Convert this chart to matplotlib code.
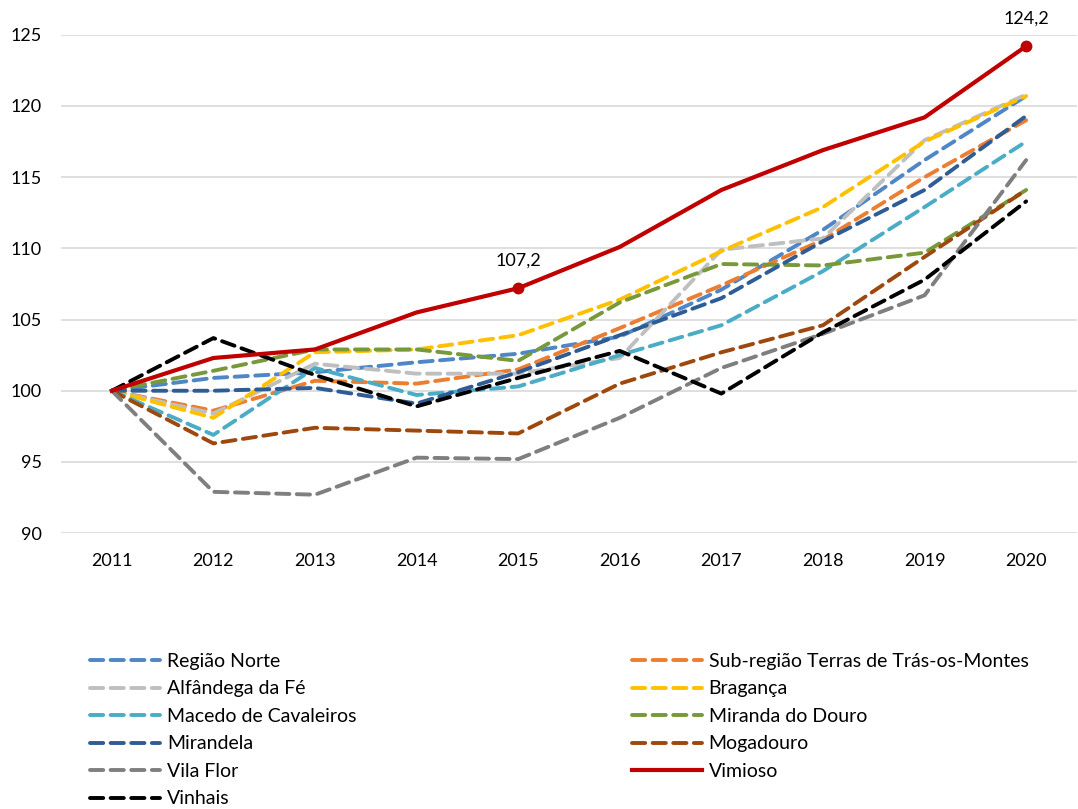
import numpy as np
import matplotlib.pyplot as plt

plt.rcParams['font.family'] = ['Lato', 'DejaVu Sans']

years = [2011, 2012, 2013, 2014, 2015, 2016, 2017, 2018, 2019, 2020]

regiao_norte = [100, 100.9, 101.3, 102.0, 102.6, 103.8, 107.1, 111.3, 116.2, 120.7]
sub_regiao = [100, 98.6, 100.7, 100.5, 101.5, 104.4, 107.4, 110.6, 115.0, 119.0]
alfandega = [100, 98.4, 101.9, 101.2, 101.2, 102.3, 109.9, 110.7, 117.6, 120.8]
braganca = [100, 98.1, 102.7, 102.9, 103.9, 106.4, 109.8, 112.9, 117.5, 120.7]
macedo = [100, 96.9, 101.6, 99.7, 100.3, 102.5, 104.6, 108.4, 112.9, 117.5]
miranda = [100, 101.4, 102.9, 102.9, 102.1, 106.2, 108.9, 108.8, 109.7, 114.1]
mirandela = [100, 100.0, 100.2, 99.1, 101.3, 103.9, 106.5, 110.5, 114.1, 119.3]
mogadouro = [100, 96.3, 97.4, 97.2, 97.0, 100.5, 102.7, 104.6, 109.4, 114.1]
vila_flor = [100, 92.9, 92.7, 95.3, 95.2, 98.1, 101.6, 104.0, 106.7, 116.2]
vimioso = [100, 102.3, 102.9, 105.5, 107.2, 110.1, 114.1, 116.9, 119.2, 124.2]
vinhais = [100, 103.7, 101.1, 98.9, 100.9, 102.8, 99.8, 104.1, 107.8, 113.3]

# (label, values, colour) - dashed series
dashed = [
    ('Região Norte', regiao_norte, '#4f86c6'),
    ('Sub-região Terras de Trás-os-Montes', sub_regiao, '#ed7d31'),
    ('Alfândega da Fé', alfandega, '#bfbfbf'),
    ('Bragança', braganca, '#ffc000'),
    ('Macedo de Cavaleiros', macedo, '#4bacc6'),
    ('Miranda do Douro', miranda, '#77993a'),
    ('Mirandela', mirandela, '#2e5d95'),
    ('Mogadouro', mogadouro, '#9e480e'),
    ('Vila Flor', vila_flor, '#7f7f7f'),
]

LW = 2.8
DASH = (3.4, 1.9)

fig = plt.figure(figsize=(10.78, 8.09), dpi=100)
ax = fig.add_axes([0.0566, 0.341, 0.9424, 0.616])

x = np.arange(len(years))
handles = {}
for label, vals, col in dashed:
    h, = ax.plot(x, vals, color=col, lw=LW, dashes=DASH,
                 dash_capstyle='round', label=label)
    handles[label] = h

h, = ax.plot(x, vimioso, color='#c00000', lw=3.0, label='Vimioso', zorder=5)
handles['Vimioso'] = h
h, = ax.plot(x, vinhais, color='black', lw=LW, dashes=DASH,
             dash_capstyle='round', label='Vinhais', zorder=4)
handles['Vinhais'] = h

# highlighted points
for i in (4, 9):
    ax.plot(x[i], vimioso[i], 'o', color='#c00000', ms=7.5, zorder=6)
    ax.annotate(f'{vimioso[i]:.1f}'.replace('.', ','), (x[i], vimioso[i]),
                xytext=(0, 14), textcoords='offset points', ha='center',
                va='bottom', fontsize=13)

ax.set_xlim(-0.5, len(years) - 0.5)
ax.set_ylim(90, 125)
ax.set_yticks(np.arange(90, 126, 5))
ax.set_xticks(x)
ax.set_xticklabels(years)
ax.tick_params(length=0, labelsize=13, colors='black')
ax.tick_params(axis='x', pad=14)
ax.tick_params(axis='y', pad=14)
ax.grid(axis='y', color='#d9d9d9', lw=1.2)
ax.set_axisbelow(True)
for s in ax.spines.values():
    s.set_visible(False)
for line in ax.lines:
    line.set_clip_on(False)

col1 = ['Região Norte', 'Alfândega da Fé', 'Macedo de Cavaleiros',
        'Mirandela', 'Vila Flor', 'Vinhais']
col2 = ['Sub-região Terras de Trás-os-Montes', 'Bragança', 'Miranda do Douro',
        'Mogadouro', 'Vimioso']
for names, xpos in ((col1, 0.0835), (col2, 0.586)):
    fig.legend([handles[n] for n in names], names, loc='upper left',
               bbox_to_anchor=(xpos, 0.193), frameon=False, fontsize=14,
               handlelength=3.6, handletextpad=0.35, labelspacing=0.54,
               borderaxespad=0, borderpad=0)

fig.savefig('out.png', dpi=100)
